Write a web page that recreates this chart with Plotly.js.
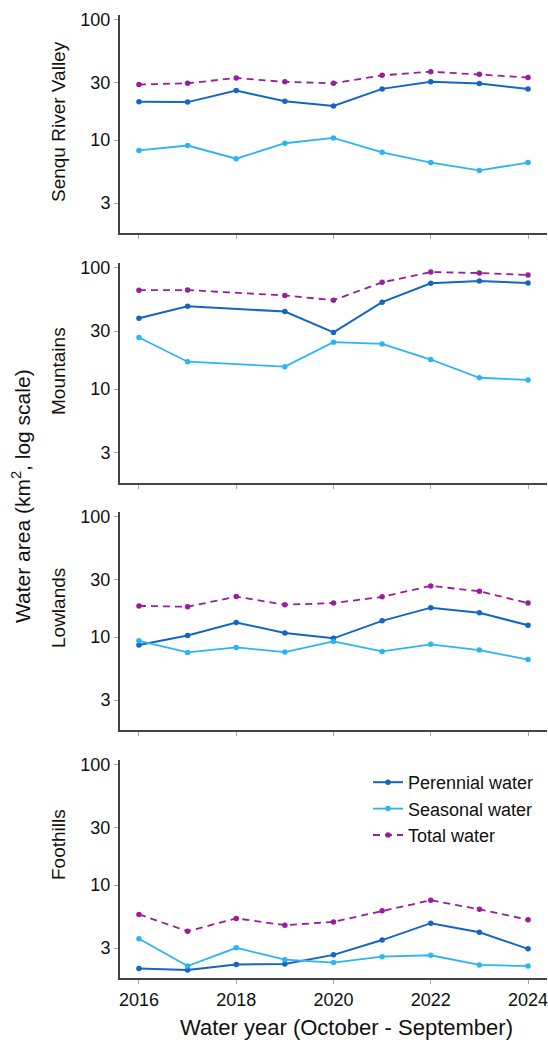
<!DOCTYPE html>
<html>
<head>
<meta charset="utf-8">
<script src="https://cdn.plot.ly/plotly-3.0.1.min.js"></script>
<style>
html,body{margin:0;padding:0;background:#fff;}
#chart{width:548px;height:1040px;}
</style>
</head>
<body>
<div id="chart"></div>
<script>
// ---- data ----
const years = [2016, 2017, 2018, 2019, 2020, 2021, 2022, 2023, 2024];
const regions = ["Senqu River Valley", "Mountains", "Lowlands", "Foothills"];
const seriesNames = ["Perennial water", "Seasonal water", "Total water"];

const senquPerennial = [20.7, 20.6, 25.7, 20.9, 19.1, 26.5, 30.3, 29.3, 26.4];
const senquSeasonal  = [8.2, 9.0, 7.0, 9.4, 10.4, 7.9, 6.5, 5.6, 6.5];
const senquTotal     = [28.8, 29.5, 32.6, 30.3, 29.5, 34.3, 36.8, 35.0, 32.9];

const mountainsPerennial = [38.1, 47.9, null, 43.3, 29.2, 51.7, 73.8, 77.1, 74.2];
const mountainsSeasonal  = [26.5, 16.8, null, 15.3, 24.3, 23.5, 17.5, 12.4, 11.9];
const mountainsTotal     = [64.9, 65.0, null, 58.7, 53.7, 75.2, 91.4, 89.7, 86.4];

const lowlandsPerennial = [8.6, 10.3, 13.2, 10.8, 9.75, 13.6, 17.5, 15.9, 12.5];
const lowlandsSeasonal  = [9.3, 7.45, 8.2, 7.5, 9.2, 7.6, 8.7, 7.8, 6.5];
const lowlandsTotal     = [18.1, 17.8, 21.6, 18.5, 19.1, 21.5, 26.5, 23.9, 19.1];

const foothillsPerennial = [2.04, 1.98, 2.20, 2.22, 2.64, 3.50, 4.83, 4.06, 2.96];
const foothillsSeasonal  = [3.59, 2.13, 3.02, 2.41, 2.28, 2.55, 2.62, 2.18, 2.13];
const foothillsTotal     = [5.71, 4.14, 5.29, 4.65, 4.95, 6.12, 7.48, 6.29, 5.15];

const yTickVals = [3, 10, 30, 100];
const yTickText = ["3", "10", "30", "100"];
const xTickVals = [2016, 2018, 2020, 2022, 2024];
const xTickText = ["2016", "2018", "2020", "2022", "2024"];

const panelData = [
  [senquPerennial, senquSeasonal, senquTotal],
  [mountainsPerennial, mountainsSeasonal, mountainsTotal],
  [lowlandsPerennial, lowlandsSeasonal, lowlandsTotal],
  [foothillsPerennial, foothillsSeasonal, foothillsTotal]
];

// ---- styles / layout ----
const FONT = "Liberation Sans, Arial, sans-serif";
const colors = ["#1366C6", "#2BB5F5", "#9A1D9E"];
const dashes = ["solid", "solid", "7px,5px"];
const widths = [2, 1.8, 1.8];

const W = 548, H = 1040, mt = 14, mb = 62, ml = 120, mr = 1;
const ph = H - mt - mb, pw = W - ml - mr;
const panelPx = [[15, 233], [263, 483], [512, 730], [760, 978]];
const labelY = [122, 371, 608, 845];
function py(p) { return (H - mb - p) / ph; }
function px(p) { return (p - ml) / pw; }

const traces = [];
const layout = {
  width: W, height: H,
  margin: {l: ml, r: mr, t: mt, b: mb, pad: 0},
  paper_bgcolor: "#fff", plot_bgcolor: "#fff",
  font: {family: FONT, size: 18, color: "#111"},
  showlegend: true,
  legend: {
    x: px(368), y: py(764), xanchor: "left", yanchor: "top",
    bgcolor: "rgba(0,0,0,0)", borderwidth: 0,
    font: {family: FONT, size: 18, color: "#111"},
    tracegroupgap: 0, itemwidth: 30
  },
  annotations: []
};

panelData.forEach((series, i) => {
  const n = i + 1;
  const xa = n === 1 ? "x" : "x" + n;
  const ya = n === 1 ? "y" : "y" + n;
  series.forEach((vals, k) => {
    traces.push({
      x: years, y: vals, xaxis: xa, yaxis: ya,
      type: "scatter", mode: "lines+markers", connectgaps: true,
      name: seriesNames[k], legendgroup: seriesNames[k],
      showlegend: i === 3,
      line: {color: colors[k], width: widths[k], dash: dashes[k]},
      marker: {color: colors[k], size: 5.5}
    });
  });
  const dom = [py(panelPx[i][1]), py(panelPx[i][0])];
  layout["xaxis" + (n === 1 ? "" : n)] = {
    domain: [0, 1], anchor: ya, range: [2015.61, 2024.39],
    tickvals: xTickVals, ticktext: xTickText, showticklabels: i === 3,
    ticklabeloverflow: "allow",
    ticks: "outside", ticklen: 4, tickwidth: 1, tickcolor: "#aaa",
    showline: true, linecolor: "#444", linewidth: 2,
    showgrid: false, zeroline: false,
    tickfont: {family: FONT, size: 18, color: "#111"}
  };
  layout["yaxis" + (n === 1 ? "" : n)] = {
    domain: dom, anchor: xa, type: "log", range: [0.23, 2.035],
    tickvals: yTickVals, ticktext: yTickText,
    ticks: "outside", ticklen: 4, tickwidth: 1, tickcolor: "#aaa",
    showline: true, linecolor: "#444", linewidth: 2,
    showgrid: false, zeroline: false,
    tickfont: {family: FONT, size: 18, color: "#111"}
  };
  layout.annotations.push({
    xref: "paper", yref: "paper", x: px(58), y: py(labelY[i]),
    xanchor: "center", yanchor: "middle", textangle: -90, showarrow: false,
    text: regions[i], font: {family: FONT, size: 19, color: "#111"}
  });
});

layout.annotations.push({
  xref: "paper", yref: "paper", x: px(21), y: py(496),
  xanchor: "center", yanchor: "middle", textangle: -90, showarrow: false,
  text: "Water area (km<sup>2</sup>, log scale)",
  font: {family: FONT, size: 21, color: "#111"}
});
layout.annotations.push({
  xref: "paper", yref: "paper", x: px(346), y: py(1027),
  xanchor: "center", yanchor: "middle", showarrow: false,
  text: "Water year (October - September)",
  font: {family: FONT, size: 22, color: "#111"}
});

Plotly.newPlot("chart", traces, layout, {staticPlot: true, displayModeBar: false});
</script>
</body>
</html>
